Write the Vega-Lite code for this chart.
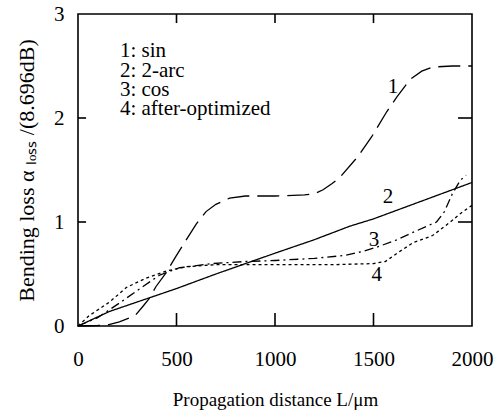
{
  "$schema": "https://vega.github.io/schema/vega-lite/v6.json",
  "width": 394,
  "height": 312,
  "autosize": {"type": "none"},
  "padding": {"left": 78, "top": 14, "right": 27, "bottom": 92},
  "background": "white",
  "config": {
    "view": {"stroke": "black", "strokeWidth": 1.6},
    "font": "Times New Roman, Liberation Serif, Times, serif",
    "axis": {"grid": false, "domain": false, "ticks": false,
             "labelFont": "Times New Roman, Liberation Serif, Times, serif", "labelFontSize": 21, "labelColor": "black",
             "titleFont": "Times New Roman, Liberation Serif, Times, serif", "titleFontSize": 21, "titleFontWeight": "normal", "titleColor": "black"}
  },
  "datasets": {
    "curves": [
      {"s": "1", "x": 0, "y": 0}, {"s": "1", "x": 100, "y": 0.005}, {"s": "1", "x": 150, "y": 0.01}, {"s": "1", "x": 210, "y": 0.04},
      {"s": "1", "x": 290, "y": 0.1}, {"s": "1", "x": 330, "y": 0.19}, {"s": "1", "x": 360, "y": 0.26}, {"s": "1", "x": 396, "y": 0.38},
      {"s": "1", "x": 450, "y": 0.52}, {"s": "1", "x": 497, "y": 0.67}, {"s": "1", "x": 540, "y": 0.8}, {"s": "1", "x": 600, "y": 0.98},
      {"s": "1", "x": 650, "y": 1.1}, {"s": "1", "x": 700, "y": 1.17}, {"s": "1", "x": 770, "y": 1.23}, {"s": "1", "x": 850, "y": 1.25},
      {"s": "1", "x": 1000, "y": 1.25}, {"s": "1", "x": 1150, "y": 1.26}, {"s": "1", "x": 1200, "y": 1.27}, {"s": "1", "x": 1244, "y": 1.31},
      {"s": "1", "x": 1290, "y": 1.37}, {"s": "1", "x": 1330, "y": 1.43}, {"s": "1", "x": 1421, "y": 1.63}, {"s": "1", "x": 1491, "y": 1.82},
      {"s": "1", "x": 1567, "y": 2.06}, {"s": "1", "x": 1618, "y": 2.2}, {"s": "1", "x": 1685, "y": 2.37}, {"s": "1", "x": 1745, "y": 2.45},
      {"s": "1", "x": 1802, "y": 2.49}, {"s": "1", "x": 1900, "y": 2.5}, {"s": "1", "x": 2000, "y": 2.5},
      {"s": "2", "x": 0, "y": 0}, {"s": "2", "x": 80, "y": 0.07}, {"s": "2", "x": 160, "y": 0.14}, {"s": "2", "x": 330, "y": 0.25},
      {"s": "2", "x": 500, "y": 0.36}, {"s": "2", "x": 700, "y": 0.5}, {"s": "2", "x": 850, "y": 0.6}, {"s": "2", "x": 1000, "y": 0.7},
      {"s": "2", "x": 1200, "y": 0.83}, {"s": "2", "x": 1380, "y": 0.96}, {"s": "2", "x": 1500, "y": 1.03}, {"s": "2", "x": 1700, "y": 1.17},
      {"s": "2", "x": 1900, "y": 1.31}, {"s": "2", "x": 2000, "y": 1.38},
      {"s": "3", "x": 0, "y": 0}, {"s": "3", "x": 100, "y": 0.08}, {"s": "3", "x": 210, "y": 0.22}, {"s": "3", "x": 330, "y": 0.38},
      {"s": "3", "x": 415, "y": 0.49}, {"s": "3", "x": 515, "y": 0.56}, {"s": "3", "x": 680, "y": 0.6}, {"s": "3", "x": 850, "y": 0.62},
      {"s": "3", "x": 1000, "y": 0.63}, {"s": "3", "x": 1200, "y": 0.65}, {"s": "3", "x": 1360, "y": 0.68}, {"s": "3", "x": 1450, "y": 0.72},
      {"s": "3", "x": 1520, "y": 0.76}, {"s": "3", "x": 1620, "y": 0.83}, {"s": "3", "x": 1700, "y": 0.9}, {"s": "3", "x": 1820, "y": 1.0},
      {"s": "3", "x": 1860, "y": 1.1}, {"s": "3", "x": 1900, "y": 1.27}, {"s": "3", "x": 1940, "y": 1.4}, {"s": "3", "x": 1970, "y": 1.45},
      {"s": "4", "x": 0, "y": 0}, {"s": "4", "x": 57, "y": 0.1}, {"s": "4", "x": 160, "y": 0.23}, {"s": "4", "x": 245, "y": 0.37},
      {"s": "4", "x": 345, "y": 0.46}, {"s": "4", "x": 450, "y": 0.53}, {"s": "4", "x": 550, "y": 0.57}, {"s": "4", "x": 700, "y": 0.59},
      {"s": "4", "x": 1000, "y": 0.59}, {"s": "4", "x": 1300, "y": 0.59}, {"s": "4", "x": 1500, "y": 0.6}, {"s": "4", "x": 1560, "y": 0.62},
      {"s": "4", "x": 1620, "y": 0.7}, {"s": "4", "x": 1700, "y": 0.8}, {"s": "4", "x": 1800, "y": 0.87}, {"s": "4", "x": 1890, "y": 1.0},
      {"s": "4", "x": 1940, "y": 1.08}, {"s": "4", "x": 2000, "y": 1.16}
    ],
    "ticksegs": [
      {"k": "b500", "x": 500, "y": 0}, {"k": "b500", "x": 500, "y": 0.125},
      {"k": "b1000", "x": 1000, "y": 0}, {"k": "b1000", "x": 1000, "y": 0.125},
      {"k": "b1500", "x": 1500, "y": 0}, {"k": "b1500", "x": 1500, "y": 0.125},
      {"k": "t500", "x": 500, "y": 3}, {"k": "t500", "x": 500, "y": 2.913},
      {"k": "t1000", "x": 1000, "y": 3}, {"k": "t1000", "x": 1000, "y": 2.913},
      {"k": "t1500", "x": 1500, "y": 3}, {"k": "t1500", "x": 1500, "y": 2.913},
      {"k": "l1", "x": 0, "y": 1}, {"k": "l1", "x": 41, "y": 1},
      {"k": "l2", "x": 0, "y": 2}, {"k": "l2", "x": 41, "y": 2},
      {"k": "r1", "x": 1929, "y": 1}, {"k": "r1", "x": 2000, "y": 1},
      {"k": "r2", "x": 1929, "y": 2}, {"k": "r2", "x": 2000, "y": 2}
    ],
    "labels": [
      {"x": 1599, "y": 2.3, "t": "1"},
      {"x": 1574, "y": 1.24, "t": "2"},
      {"x": 1503, "y": 0.83, "t": "3"},
      {"x": 1516, "y": 0.49, "t": "4"}
    ],
    "legend": [
      {"x": 213, "y": 2.644, "t": "1: sin"},
      {"x": 213, "y": 2.452, "t": "2: 2-arc"},
      {"x": 213, "y": 2.269, "t": "3: cos"},
      {"x": 213, "y": 2.087, "t": "4: after-optimized"}
    ]
  },
  "layer": [
    {
      "data": {"name": "curves"},
      "mark": {"type": "line", "color": "black", "strokeWidth": 1.3},
      "encoding": {
        "x": {"field": "x", "type": "quantitative", "scale": {"domain": [0, 2000], "nice": false},
              "axis": {"orient": "bottom", "values": [0, 500, 1000, 1500, 2000], "format": "d", "labelPadding": 22,
                       "title": "Propagation distance L/μm", "titleFontSize": 19, "titlePadding": 21, "labelFlush": false}},
        "y": {"field": "y", "type": "quantitative", "scale": {"domain": [0, 3], "nice": false},
              "axis": {"orient": "left", "values": [0, 1, 2, 3], "format": "d", "labelPadding": 14,
                       "title": "Bending loss α ₗₒₛₛ /(8.696dB)", "titleFontSize": 22, "titlePadding": 15, "labelFlush": false}},
        "strokeDash": {"field": "s", "type": "nominal",
                       "scale": {"domain": ["1", "2", "3", "4"], "range": [[22, 8], [1, 0], [9, 4, 2, 4], [3, 3]]},
                       "legend": null}
      }
    },
    {
      "data": {"name": "ticksegs"},
      "mark": {"type": "line", "color": "black", "strokeWidth": 1.6},
      "encoding": {
        "x": {"field": "x", "type": "quantitative", "axis": null},
        "y": {"field": "y", "type": "quantitative", "axis": null},
        "detail": {"field": "k", "type": "nominal"}
      }
    },
    {
      "data": {"name": "labels"},
      "mark": {"type": "text", "font": "Times New Roman, Liberation Serif, Times, serif", "fontSize": 21, "color": "black", "align": "center", "baseline": "middle"},
      "encoding": {
        "x": {"field": "x", "type": "quantitative", "axis": null},
        "y": {"field": "y", "type": "quantitative", "axis": null},
        "text": {"field": "t"}
      }
    },
    {
      "data": {"name": "legend"},
      "mark": {"type": "text", "font": "Times New Roman, Liberation Serif, Times, serif", "fontSize": 21, "color": "black", "align": "left", "baseline": "middle"},
      "encoding": {
        "x": {"field": "x", "type": "quantitative", "axis": null},
        "y": {"field": "y", "type": "quantitative", "axis": null},
        "text": {"field": "t"}
      }
    }
  ],
  "resolve": {"axis": {"x": "independent", "y": "independent"}}
}
